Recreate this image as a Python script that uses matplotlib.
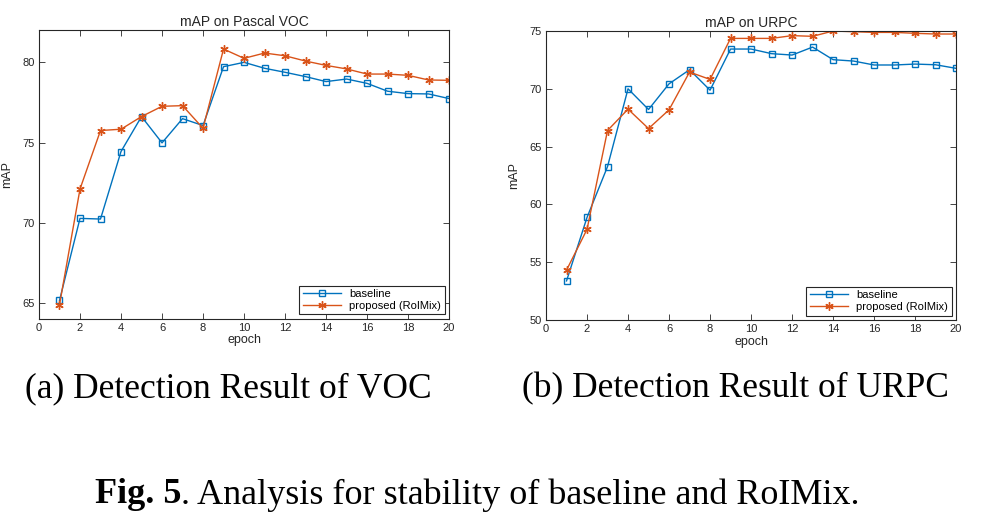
import matplotlib
matplotlib.use('Agg')
import matplotlib.pyplot as plt

# data
epochs = list(range(1, 21))

voc_baseline = [65.15, 70.27, 70.23, 74.44, 76.62, 74.98, 76.49, 76.06, 79.73, 80.00,
                79.63, 79.38, 79.11, 78.80, 78.96, 78.69, 78.20, 78.05, 78.03, 77.74]
voc_proposed = [64.88, 72.10, 75.75, 75.83, 76.62, 77.26, 77.30, 75.89, 80.83, 80.25,
                80.58, 80.41, 80.08, 79.81, 79.59, 79.27, 79.27, 79.19, 78.90, 78.88]

urpc_baseline = [53.38, 58.87, 63.27, 70.00, 68.21, 70.43, 71.65, 69.88, 73.44, 73.44,
                 73.04, 72.92, 73.61, 72.52, 72.40, 72.06, 72.06, 72.14, 72.08, 71.77]
urpc_proposed = [54.31, 57.84, 66.39, 68.24, 66.56, 68.18, 71.45, 70.81, 74.36, 74.36,
                 74.36, 74.60, 74.54, 75.00, 74.94, 74.88, 74.88, 74.80, 74.74, 74.74]

xticks = list(range(0, 21, 2))
voc_yticks = [65, 70, 75, 80]
urpc_yticks = [50, 55, 60, 65, 70, 75]

blue = '#0072BD'
orange = '#D95319'

plt.rcParams['font.family'] = ['Liberation Sans', 'DejaVu Sans']

fig = plt.figure(figsize=(9.87, 5.22), dpi=100)

def lag_akse(pos, title, base, prop, ylim, yticks):
    ax = fig.add_axes(pos)
    ax.plot(epochs, base, color=blue, lw=1.0, marker='s', mfc='none', mec=blue, ms=5, mew=1.0, label='baseline')
    ax.plot(epochs, prop, color=orange, lw=1.0, marker=(6, 2, 0), mfc=orange, mec=orange, ms=6, mew=1.0, label='proposed (RoIMix)')
    ax.set_xlim(0, 20)
    ax.set_ylim(*ylim)
    ax.set_xticks(xticks)
    ax.set_yticks(yticks)
    ax.tick_params(direction='in', top=True, right=True, labelsize=8, length=4, width=0.6, colors='#262626', pad=3)
    for s in ax.spines.values():
        s.set_linewidth(0.8)
        s.set_color('#262626')
    ax.set_title(title, fontsize=10, pad=3, color='#262626')
    ax.set_xlabel('epoch', fontsize=9, labelpad=1, color='#262626')
    ax.set_ylabel('mAP', fontsize=9, labelpad=7, color='#262626')
    leg = ax.legend(loc='lower right', fontsize=8, fancybox=False, framealpha=1, edgecolor='#262626',
                    handlelength=3.4, borderpad=0.3, labelspacing=0.2, borderaxespad=0.4)
    leg.get_frame().set_linewidth(0.8)
    return ax

lag_akse([0.0395, 0.389, 0.4155, 0.553], 'mAP on Pascal VOC', voc_baseline, voc_proposed, (64, 82), voc_yticks)
lag_akse([0.5532, 0.387, 0.4155, 0.5536], 'mAP on URPC', urpc_baseline, urpc_proposed, (50, 75), urpc_yticks)

serif = ['Liberation Serif', 'DejaVu Serif']
fig.text(0.231, 0.255, '(a) Detection Result of VOC', ha='center', va='center', fontsize=25.5, family=serif)
fig.text(0.745, 0.255, '(b) Detection Result of URPC', ha='center', va='center', fontsize=25.5, family=serif)

# caption: bold part + normal part
renderer = fig.canvas.get_renderer()
t1 = fig.text(0.096, 0.052, 'Fig. 5', ha='left', va='center', fontsize=26, family=serif, fontweight='bold')
bb = t1.get_window_extent(renderer=renderer)
x2 = bb.x1 / fig.bbox.width
fig.text(x2, 0.052, '. Analysis for stability of baseline and RoIMix.', ha='left', va='center', fontsize=26, family=serif)

fig.savefig('out.png', dpi=100)
